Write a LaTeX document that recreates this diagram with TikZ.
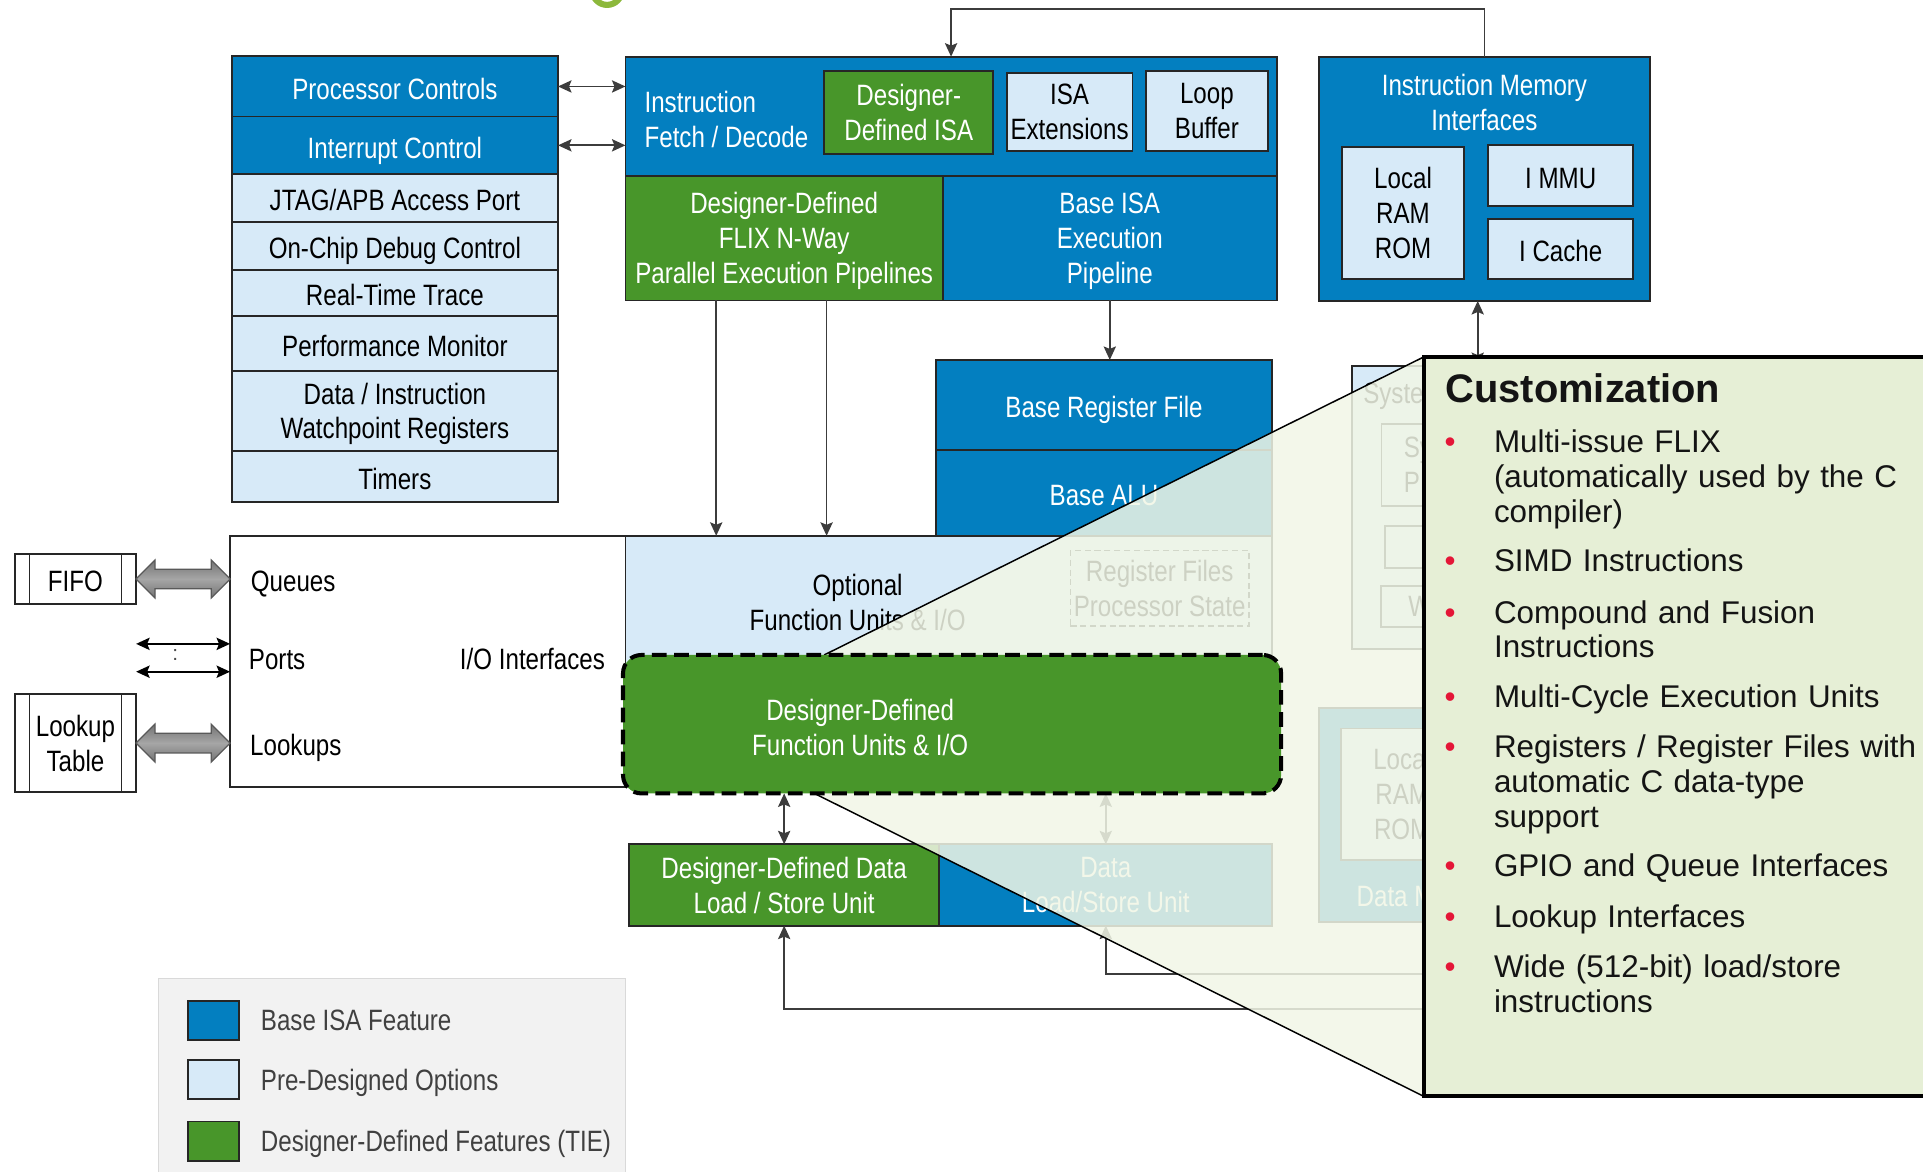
\documentclass[tikz,border=0pt]{standalone}
\usepackage{fontspec}
\setmainfont{Liberation Sans}
\newfontfamily\narrowsf[FakeStretch=0.82]{Liberation Sans}
\usetikzlibrary{arrows.meta,positioning,shapes.arrows,calc}
\definecolor{isablue}{RGB}{3,127,192}
\definecolor{optblue}{RGB}{215,234,248}
\definecolor{tiegreen}{RGB}{72,150,42}
\definecolor{custgreen}{RGB}{230,239,214}
\definecolor{veilgreen}{RGB}{241,246,230}
\definecolor{edgegray}{RGB}{38,38,38}
\definecolor{wiregray}{RGB}{60,60,60}
\definecolor{legendgray}{RGB}{242,242,242}
\definecolor{legendedge}{RGB}{217,217,217}
\definecolor{legendtext}{RGB}{64,64,64}
\definecolor{custtext}{RGB}{20,20,20}
\definecolor{bulletred}{RGB}{228,22,55}
\definecolor{titlegreen}{RGB}{140,184,60}
\newcommand\blkfont{\narrowsf\fontsize{24}{28.5}\selectfont}
\pgfdeclarelayer{veil}
\pgfdeclarelayer{front}
\pgfsetlayers{main,veil,front}

\begin{document}
\begin{tikzpicture}[x=1pt,y=-1pt,>={Stealth[length=11pt,width=10pt,inset=2pt]},
  blk/.style={draw=edgegray,line width=1.5pt,align=center,inner sep=1pt,outer sep=0pt,text depth=0pt,font=\blkfont},
  oneline/.style={text height=21pt,text depth=0pt},
  base/.style={blk,fill=isablue,text=white},
  opt/.style={blk,fill=optblue,text=black},
  tie/.style={blk,fill=tiegreen,text=white},
  colcell/.style={minimum width=266pt},
  lbl/.style={inner sep=0pt,outer sep=0pt,align=center,text depth=0pt,font=\blkfont},
  wire/.style={draw=wiregray,line width=1.4pt},
  fatarrow/.style={double arrow,draw=black!65,line width=1pt,top color=black!55,bottom color=black!55,
    middle color=black!35,inner xsep=0pt,inner ysep=7.5pt,double arrow head extend=7.5pt,outer sep=0pt},
  legsq/.style={blk,minimum width=41.7pt,minimum height=32pt},
  legtxt/.style={lbl,text=legendtext,anchor=west},
  custitem/.style={anchor=base west,inner sep=0pt,text width=400pt,align=left,text=custtext,
    font=\fontsize{25.6}{28.5}\selectfont},
  custdot/.style={anchor=base,inner sep=0pt,text=bulletred,font=\fontsize{25.6}{28.5}\selectfont}]
\useasboundingbox (0,0) rectangle (1568,955);

% tail of the cut-off title
\draw[titlegreen,line width=5pt] (483,-8) arc[start angle=180,end angle=0,radius=12];

% legend
\node[draw=legendedge,fill=legendgray,line width=1pt,outer sep=0pt,anchor=north west,
  minimum width=381pt,minimum height=200pt] (legend) at (129.2,797.7) {};
\node[legsq,fill=isablue] (lgbase) at (173.9,832) {};
\node[legsq,fill=optblue] (lgopt) at (173.9,880.4) {};
\node[legsq,fill=tiegreen] (lgtie) at (173.9,930.5) {};
\node[legtxt,right=18pt of lgbase] (lgbasetxt) {Base ISA Feature};
\node[legtxt,right=18pt of lgopt] (lgopttxt) {Pre-Designed Options};
\node[legtxt,right=18pt of lgtie] (lgtietxt) {Designer-Defined Features (TIE)};

% processor control column
\node[base,colcell,oneline,minimum height=49pt] (proc) at (322,70.5) {Processor Controls};
\node[base,colcell,oneline,minimum height=47pt,below=0pt of proc] (intr) {Interrupt Control};
\node[opt,colcell,oneline,minimum height=39pt,below=0pt of intr] (jtag) {JTAG/APB Access Port};
\node[opt,colcell,oneline,minimum height=39pt,below=0pt of jtag] (ocd) {On-Chip Debug Control};
\node[opt,colcell,oneline,minimum height=38pt,below=0pt of ocd] (rtt) {Real-Time Trace};
\node[opt,colcell,oneline,minimum height=44.5pt,below=0pt of rtt] (perf) {Performance Monitor};
\node[opt,colcell,minimum height=65pt,below=0pt of perf] (watch) {Data / Instruction\\Watchpoint Registers};
\node[opt,colcell,oneline,minimum height=42pt,below=0pt of watch] (timers) {Timers};

% fetch / decode and pipelines
\node[base,minimum width=531pt,minimum height=97.3pt] (fetch) at (775.5,94.85) {};
\node[lbl,text=white,align=left,anchor=west] (fetchtxt) at (525.6,97) {Instruction\\Fetch / Decode};
\node[tie,minimum width=138pt,minimum height=67.7pt] (ddisa) at (741,91.75) {Designer-\\Defined ISA};
\node[opt,minimum width=102.7pt,minimum height=63.1pt] (isaext) at (872.1,91.35) {ISA\\Extensions};
\node[opt,minimum width=99.4pt,minimum height=65pt] (loopbuf) at (984.1,90.4) {Loop\\Buffer};
\node[tie,anchor=north west,minimum width=258.8pt,minimum height=101.5pt] (flix) at (fetch.south west)
  {Designer-Defined\\FLIX N-Way\\Parallel Execution Pipelines};
\node[base,anchor=north west,minimum width=272.2pt,minimum height=101.5pt] (baseexe) at (flix.north east)
  {Base ISA\\Execution\\Pipeline};

% instruction memory
\node[base,minimum width=270.1pt,minimum height=199.2pt] (imem) at (1210.4,145.8) {};
\node[lbl,text=white] (imemtxt) at (1210.4,83.5) {Instruction Memory\\Interfaces};
\node[opt,minimum width=99pt,minimum height=107.6pt] (lram) at (1144,173.4) {Local\\RAM\\ROM};
\node[opt,oneline,minimum width=118.3pt,minimum height=49.5pt] (immu) at (1272.6,143) {I MMU};
\node[opt,oneline,minimum width=118.3pt,minimum height=48.6pt] (icache) at (1272.6,202.9) {I Cache};

% register file, ALU, optional units
\node[base,oneline,minimum width=274.4pt,minimum height=73.4pt] (brf) at (900.2,330.2) {Base Register File};
\node[base,oneline,minimum width=274.4pt,minimum height=70pt,below=0pt of brf] (balu) {Base ALU};
\node[opt,anchor=north west,minimum width=527.2pt,minimum height=122pt] (optfu) at (flix.south west |- balu.south) {};
\node[lbl] (opttxt) at (699.3,491.3) {Optional\\Function Units \& I/O};
\node[blk,dash pattern=on 5pt off 3pt,line width=1.2pt,minimum width=145.6pt,minimum height=61.4pt] (regfiles)
  at (945.6,479.7) {Register Files\\Processor State};

% I/O interfaces
\node[blk,fill=white,anchor=north east,minimum width=322.4pt,minimum height=205pt] (io) at (optfu.north west) {};
\node[lbl,anchor=west] (queues) at (204.6,473.7) {Queues};
\node[lbl,anchor=west] (ports) at (203,537.6) {Ports};
\node[lbl,anchor=west] (lookups) at (204,607.5) {Lookups};
\node[lbl,anchor=east] (iotxt) at (493.2,537.6) {I/O Interfaces};
\node[blk,oneline,fill=white,minimum width=99pt,minimum height=40.2pt] (fifo) at (61.5,472.1) {FIFO};
\node[blk,fill=white,minimum width=99pt,minimum height=79.9pt] (lut) at (61.5,605.9) {Lookup\\Table};
\foreach \bx in {fifo,lut}{
  \draw[edgegray,line width=1.2pt] ([xshift=12pt]\bx.north west) -- ([xshift=12pt]\bx.south west)
    ([xshift=-12pt]\bx.north east) -- ([xshift=-12pt]\bx.south east);
}
\node[fatarrow,minimum height=76.8pt] (fifoarr) at ($(fifo.east)!0.5!(io.west |- fifo.east)$) {};
\node[fatarrow,minimum height=76.8pt] (lutarr) at ($(lut.east)!0.5!(io.west |- lut.east)$) {};
\coordinate (portA) at (111,525);
\coordinate (portB) at (111,547.7);
\draw[<->,black,line width=1.6pt] (portA) -- (portA -| io.west);
\draw[<->,black,line width=1.6pt] (portB) -- (portB -| io.west);
\node[inner sep=0pt,text=black!70,font=\fontsize{17}{17}\selectfont] (portdots) at (143,534) {:};

% system and data memory blocks (mostly hidden)
\node[opt,anchor=north west,minimum width=160pt,minimum height=230.5pt] (sys) at (1102.5,298.5) {};
\node[lbl,anchor=west] (systxt) at (1111.6,321) {System};
\node[opt,anchor=north west,minimum width=110pt,minimum height=66.8pt] (sysbus) at (1126.5,345.7) {};
\node[lbl,align=left,anchor=west] (sysbustxt) at (1144.6,379) {Sys\\PIF};
\node[opt,anchor=north west,minimum width=110pt,minimum height=33.8pt] (sysirq) at (1129,429) {};
\node[opt,anchor=north west,minimum width=148pt,minimum height=33.5pt] (syswb) at (1126,477.5) {Write Buffer};
\node[base,anchor=north west,minimum width=180pt,minimum height=174.4pt] (dmem) at (1075.3,577.4) {};
\node[opt,anchor=north west,minimum width=99.6pt,minimum height=107pt] (dlram) at (1093.5,594) {Local\\RAM\\ROM};
\node[lbl,anchor=west,text=white] (dmemtxt) at (1106.2,731) {Data Memory};

% load / store units
\node[tie,minimum width=252.9pt,minimum height=66.3pt] (ddlsu) at (639.4,721.6) {Designer-Defined Data\\Load / Store Unit};
\node[base,minimum width=271.6pt,minimum height=66.3pt,right=0pt of ddlsu] (dlsu) {Data\\Load/Store Unit};

% designer-defined units and the customization panel
\begin{pgfonlayer}{front}
  \node[tie,draw=black,line width=3.3pt,dash pattern=on 12pt off 6pt,rounded corners=15pt,
    minimum width=536.6pt,minimum height=112.9pt] (fu) at (776.3,590.5) {};
  \node[lbl,text=white] (futxt) at (701.4,593.3) {Designer-Defined\\Function Units \& I/O};
  \node[draw=black,fill=custgreen,line width=3.2pt,outer sep=0pt,anchor=north west,
    minimum width=440pt,minimum height=603pt] (cust) at (1161,291) {};
  \node[anchor=base west,inner sep=0pt,text=custtext,font=\bfseries\fontsize{32.5}{36}\selectfont]
    (custtitle) at (1178.5,328) {Customization};
  \foreach \yy/\itm [count=\i] in {369/{Multi-issue FLIX\\(automatically used by the C\\compiler)},
      466/{SIMD Instructions}, 508/{Compound and Fusion\\Instructions},
      576.5/{Multi-Cycle Execution Units},
      618/{Registers / Register Files with\\automatic C data-type\\support},
      714.5/{GPIO and Queue Interfaces}, 756.5/{Lookup Interfaces},
      797/{Wide (512-bit) load/store\\instructions}}{
    \node[custdot] (dot\i) at (1182.5,\yy) {\textbullet};
    \node[custitem] (item\i) at (1218,\yy) {\itm};
  }
\end{pgfonlayer}

% connectors
\draw[wire,<->] (proc.east) -- (proc.east -| fetch.west);
\draw[wire,<->] (intr.east) -- (intr.east -| fetch.west);
\draw[wire,->] (imem.north) -- ++(0,-39) -| (fetch.north);
\draw[wire,->] ($(flix.south west)+(74,0)$) -- ($(optfu.north west)+(74,0)$);
\draw[wire,->] ($(flix.south west)+(164,0)$) -- ($(optfu.north west)+(164,0)$);
\draw[wire,->] (baseexe.south) -- (baseexe.south |- brf.north);
\coordinate (imemport) at ([xshift=-5.5pt]imem.south);
\draw[wire,<->] (imemport) -- (imemport |- sys.north);
\draw[wire,<->] (ddlsu.north) -- (ddlsu.north |- fu.south);
\draw[wire,<->] (dlsu.north) -- (dlsu.north |- fu.south);
\coordinate (dmemA) at (1180,822.7);
\coordinate (dmemB) at (1180,794.2);
\draw[wire,->] (dmemA) -| (ddlsu.south);
\draw[wire,->] (dmemB) -| (dlsu.south);

% zoom veil
\begin{pgfonlayer}{veil}
  \coordinate (veilA) at ($(fu.north)+(-104.3,0)$);
  \coordinate (veilB) at ($(fu.south)+(-112.3,0)$);
  \fill[veilgreen,fill opacity=0.85] (veilA) -- (cust.north west) -- (cust.south west) -- (veilB) -- cycle;
  \draw[black,line width=1.2pt] (veilA) -- (cust.north west) (veilB) -- (cust.south west);
\end{pgfonlayer}
\end{tikzpicture}
\end{document}
